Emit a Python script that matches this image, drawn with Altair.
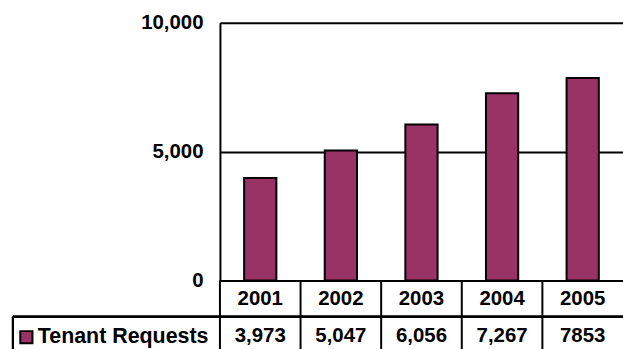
import altair as alt
import pandas as pd

years = ["2001", "2002", "2003", "2004", "2005"]
requests = [3973, 5047, 6056, 7267, 7853]
value_labels = ["3,973", "5,047", "6,056", "7,267", "7853"]
series_name = "Tenant Requests"
y_ticks = [0, 5000, 10000]

df = pd.DataFrame({"year": years, "requests": requests, "label": value_labels})

FONT = "Liberation Sans"
FS = 20.5
W, H = 405, 259
BAR_COLOR = "#993366"

x_enc = alt.X("year:N", sort=years, scale=alt.Scale(paddingInner=0, paddingOuter=0), axis=None)

base = alt.Chart(df)

bars = base.mark_bar(
    color=BAR_COLOR, stroke="black", strokeWidth=2, width=alt.RelativeBandSize(0.4)
).encode(
    x=x_enc,
    y=alt.Y(
        "requests:Q",
        scale=alt.Scale(domain=[0, 10000], nice=False),
        axis=alt.Axis(
            values=y_ticks, format=",.0f", title=None, grid=True, gridColor="black",
            gridWidth=2, gridOpacity=1, domainColor="black", domainWidth=2, ticks=False,
            labelFont=FONT, labelFontSize=FS, labelFontWeight="bold", labelColor="black",
            labelPadding=17,
        ),
    ),
)

# table vertical dividers at band starts
vlines = base.mark_rule(color="black", strokeWidth=2).encode(
    x=alt.X("year:N", sort=years, bandPosition=0, scale=alt.Scale(paddingInner=0, paddingOuter=0), axis=None),
    y=alt.value(H),
    y2=alt.value(H + 90),
)

row_line = base.mark_rule(color="black", strokeWidth=2).encode(
    x=alt.value(-208), x2=alt.value(W), y=alt.value(H + 36.5)
)
left_line = base.mark_rule(color="black", strokeWidth=2).encode(
    x=alt.value(-208), y=alt.value(H + 36.5), y2=alt.value(H + 90)
)

year_text = base.mark_text(
    font=FONT, fontSize=FS, fontWeight="bold", color="black", baseline="alphabetic"
).encode(x=x_enc, y=alt.value(H + 25), text="year:N")

value_text = base.mark_text(
    font=FONT, fontSize=FS, fontWeight="bold", color="black", baseline="alphabetic"
).encode(x=x_enc, y=alt.value(H + 62), text="label:N")

series_df = pd.DataFrame({"name": [series_name]})
series_text = alt.Chart(series_df).mark_text(
    font=FONT, fontSize=21.5, fontWeight="bold", color="black", align="left", baseline="alphabetic"
).encode(x=alt.value(-183), y=alt.value(H + 63), text="name:N")

legend_sq = alt.Chart(series_df).mark_square(
    color=BAR_COLOR, stroke="black", strokeWidth=2, size=150, opacity=1
).encode(x=alt.value(-194.5), y=alt.value(H + 57))

chart = alt.layer(
    bars, vlines, row_line, left_line, year_text, value_text, series_text, legend_sq
).properties(
    width=W, height=H,
    autosize=alt.AutoSizeParams(type="none"),
    padding={"left": 221, "top": 22, "right": 0, "bottom": 68},
).configure_view(stroke=None)

chart.save("out.html", embed_options={"renderer": "svg", "actions": False})
